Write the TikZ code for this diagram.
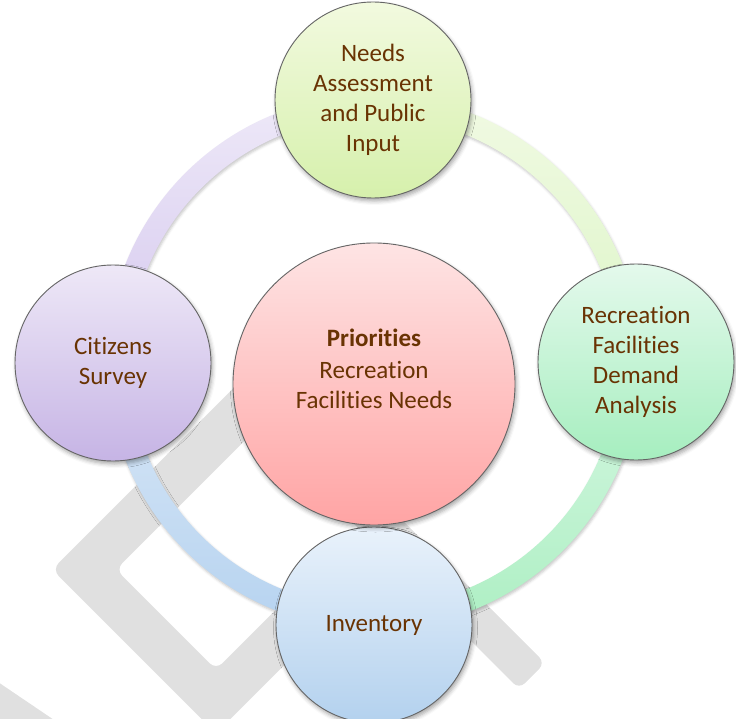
\documentclass[tikz,border=0pt]{standalone}
\usepackage{fontspec}
\setmainfont{Carlito}[Ligatures=NoCommon, Contextuals=NoAlternate]
\usetikzlibrary{shadows.blur}

\definecolor{txtbrown}{HTML}{693303}
\definecolor{wmgray}{HTML}{E0E0E0}
\definecolor{rimgray}{HTML}{656565}
% circle fills (top / bottom of the vertical shading)
\definecolor{needsT}{HTML}{F2FADF}
\definecolor{needsB}{HTML}{D6F0AC}
\definecolor{citT}{HTML}{EEE8F7}
\definecolor{citB}{HTML}{C6B4E5}
\definecolor{demT}{HTML}{E4F9EC}
\definecolor{demB}{HTML}{A6EEBF}
\definecolor{invT}{HTML}{E9F2FB}
\definecolor{invB}{HTML}{B3D1EE}
\definecolor{prioT}{HTML}{FEE4E4}
\definecolor{prioB}{HTML}{FFA4A4}
% ring quadrants
\definecolor{rTLt}{HTML}{EEE9F8}
\definecolor{rTLb}{HTML}{D5C8EE}
\definecolor{rTRt}{HTML}{F1FAE3}
\definecolor{rTRb}{HTML}{DCF5C7}
\definecolor{rBRt}{HTML}{D6F7E2}
\definecolor{rBRb}{HTML}{ADEFC3}
\definecolor{rBLt}{HTML}{D9E7F6}
\definecolor{rBLb}{HTML}{B6D3F0}

\begin{document}
\begin{tikzpicture}[x=1pt,y=-1pt,
  bubble/.style={circle, draw=rimgray, line width=0.9pt, inner sep=0pt,
    minimum size=196pt, align=center, text=txtbrown,
    font=\fontsize{25}{30}\selectfont,
    blur shadow={shadow xshift=1.5pt, shadow yshift=-3pt,
      shadow blur radius=4pt, shadow opacity=35}},
  ringseg/.style={blur shadow={shadow xshift=1pt, shadow yshift=-2pt,
      shadow blur radius=2.5pt, shadow opacity=22}},
]
\useasboundingbox (0,0) rectangle (736,719);

% faint background emblem
\begin{scope}
  \clip (0,0) rectangle (736,719);
  \fill[wmgray, rounded corners=9pt]
    (240,381.7) -- (52.2,569.5) -- (216,733.3) -- (366.8,582.5)
    -- (335,550.7) -- (216,669.7) -- (115.8,569.5) -- (271.8,413.5) -- cycle;
  \fill[wmgray, rounded corners=8pt]
    (330,448) -- (545,663) -- (519,689) -- (304,474) -- cycle;
  \fill[wmgray] (-5,680) -- (60,724) -- (-5,724) -- cycle;
\end{scope}

% cycle ring, one shaded quarter per pair of neighbours
\coordinate (ringc) at (374,362);
\path[ringseg, top color=rTLt, bottom color=rTLb]
  ([shift={(ringc)}]180:267) arc[start angle=180, end angle=270, radius=267]
  -- ([shift={(ringc)}]270:245) arc[start angle=270, end angle=180, radius=245] -- cycle;
\path[ringseg, top color=rTRt, bottom color=rTRb]
  ([shift={(ringc)}]270:267) arc[start angle=270, end angle=360, radius=267]
  -- ([shift={(ringc)}]360:245) arc[start angle=360, end angle=270, radius=245] -- cycle;
\path[ringseg, top color=rBRt, bottom color=rBRb]
  ([shift={(ringc)}]0:267) arc[start angle=0, end angle=90, radius=267]
  -- ([shift={(ringc)}]90:245) arc[start angle=90, end angle=0, radius=245] -- cycle;
\path[ringseg, top color=rBLt, bottom color=rBLb]
  ([shift={(ringc)}]90:267) arc[start angle=90, end angle=180, radius=267]
  -- ([shift={(ringc)}]180:245) arc[start angle=180, end angle=90, radius=245] -- cycle;

% outer circles
\node[bubble, top color=needsT, bottom color=needsB] (needs) at (373,100)
  {Needs\\Assessment\\and Public\\Input};
\node[bubble, top color=citT, bottom color=citB] (citizens) at (113,363)
  {Citizens\\Survey};
\node[bubble, top color=demT, bottom color=demB] (demand) at (636,362)
  {Recreation\\Facilities\\Demand\\Analysis};
\node[bubble, top color=invT, bottom color=invB] (inventory) at (374,625)
  {Inventory};

% central circle and its text
\node[bubble, minimum size=282pt, top color=prioT, bottom color=prioB] (prio) at (374,384) {};
\node[text=txtbrown, align=center, inner sep=0pt, font=\fontsize{25}{30}\selectfont]
  (priotext) at (374,369) {\textbf{Priorities}\\[2pt]Recreation\\Facilities Needs};
\end{tikzpicture}
\end{document}
